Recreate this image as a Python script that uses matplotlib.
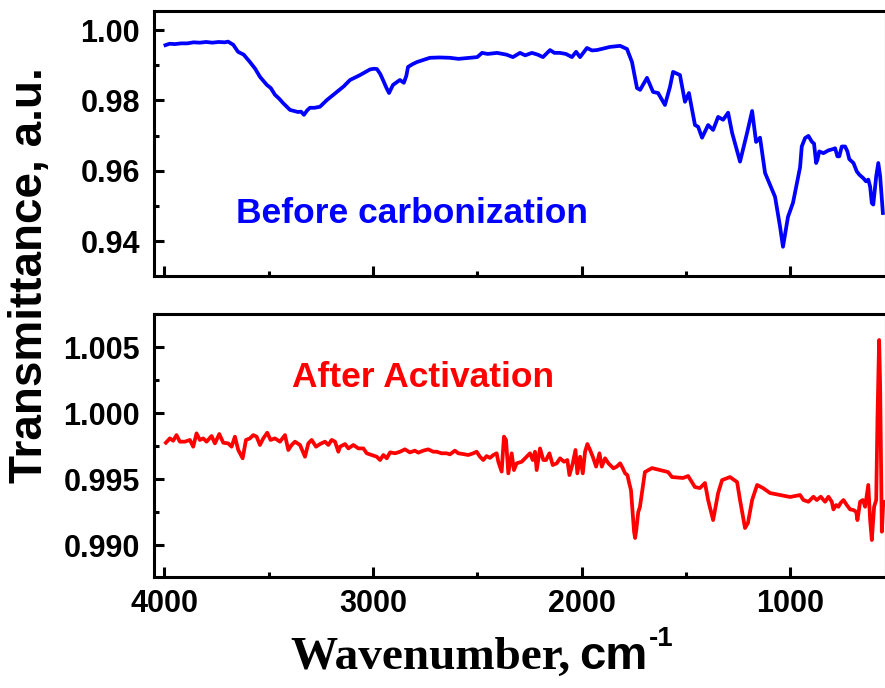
import matplotlib.pyplot as plt
import numpy as np
from matplotlib.ticker import MultipleLocator, FormatStrFormatter

# before carbonization (top panel)
wn_before = [3995, 3975, 3950, 3920, 3890, 3860, 3830, 3800, 3770, 3740, 3710, 3695,
             3670, 3647, 3620, 3590, 3565, 3542, 3509, 3490, 3470, 3450, 3432, 3398,
             3360, 3345, 3331, 3315, 3302, 3280, 3254, 3221, 3173, 3140, 3110, 3062,
             3014, 2995, 2981, 2965, 2952, 2935, 2923, 2904, 2871, 2852, 2840, 2832,
             2810, 2789, 2727, 2680, 2631, 2590, 2535, 2500, 2477, 2450, 2405, 2360,
             2329, 2295, 2270, 2238, 2210, 2185, 2151, 2130, 2103, 2075, 2046, 2026,
             2007, 1974, 1950, 1926, 1890, 1863, 1815, 1782, 1758, 1734, 1719, 1686,
             1657, 1633, 1600, 1576, 1561, 1528, 1504, 1485, 1456, 1441, 1422, 1393,
             1369, 1345, 1321, 1297, 1278, 1240, 1206, 1182, 1163, 1144, 1120, 1072,
             1048, 1034, 1010, 986, 962, 952, 944, 928, 912, 896, 885, 875, 869, 860,
             840, 816, 792, 784, 773, 764, 752, 736, 725, 716, 696, 680, 668, 649,
             636, 625, 616, 608, 601, 587, 577, 568, 555]
t_before = [0.9957, 0.9961, 0.9960, 0.9962, 0.9962, 0.9965, 0.9964, 0.9966, 0.9964, 0.9966, 0.9965, 0.9967,
            0.9958, 0.9938, 0.9930, 0.9909, 0.9890, 0.9867, 0.9844, 0.9835, 0.9816, 0.9805, 0.9793, 0.9773,
            0.9767, 0.9768, 0.9759, 0.9772, 0.9779, 0.9779, 0.9782, 0.9801, 0.9824, 0.9840, 0.9858, 0.9872,
            0.9888, 0.9890, 0.9889, 0.9875, 0.9858, 0.9835, 0.9821, 0.9844, 0.9858, 0.9850, 0.9870, 0.9895,
            0.9903, 0.9909, 0.9921, 0.9922, 0.9921, 0.9918, 0.9921, 0.9923, 0.9935, 0.9932, 0.9935, 0.9930,
            0.9923, 0.9935, 0.9928, 0.9935, 0.9930, 0.9923, 0.9943, 0.9935, 0.9935, 0.9932, 0.9923, 0.9938,
            0.9923, 0.9949, 0.9942, 0.9943, 0.9948, 0.9952, 0.9955, 0.9946, 0.9909, 0.9835, 0.9830, 0.9864,
            0.9824, 0.9821, 0.9787, 0.9838, 0.9881, 0.9872, 0.9796, 0.9821, 0.9730, 0.9725, 0.9694, 0.9730,
            0.9716, 0.9753, 0.9745, 0.9765, 0.9708, 0.9626, 0.9708, 0.9770, 0.9682, 0.9694, 0.9594, 0.9526,
            0.9441, 0.9384, 0.9469, 0.9509, 0.9580, 0.9610, 0.9669, 0.9693, 0.9699, 0.9683, 0.9677, 0.9622, 0.9631, 0.9655,
            0.9650, 0.9658, 0.9662, 0.9664, 0.9641, 0.9641, 0.9669, 0.9669, 0.9655, 0.9633, 0.9622, 0.9598, 0.9589, 0.9579,
            0.9570, 0.9575, 0.9555, 0.9508, 0.9504, 0.9584, 0.9622, 0.9584, 0.9480]

# after activation (bottom panel)
wn_after = [3993, 3974, 3958, 3942, 3926, 3902, 3878, 3862, 3846, 3830, 3814, 3798,
            3774, 3758, 3737, 3718, 3694, 3678, 3662, 3646, 3625, 3609, 3590, 3574,
            3558, 3542, 3526, 3507, 3491, 3470, 3446, 3422, 3406, 3390, 3374, 3350,
            3326, 3310, 3294, 3273, 3254, 3230, 3214, 3198, 3182, 3166, 3158, 3134,
            3118, 3094, 3070, 3046, 3030, 3006, 2982, 2966, 2950, 2934, 2918, 2894,
            2870, 2847, 2823, 2799, 2783, 2759, 2735, 2711, 2695, 2671, 2647, 2631,
            2607, 2591, 2567, 2543, 2519, 2503, 2487, 2471, 2455, 2439, 2423, 2407,
            2399, 2383, 2372, 2362, 2351, 2335, 2324, 2311, 2287, 2263, 2247, 2234,
            2223, 2215, 2199, 2183, 2170, 2154, 2138, 2119, 2103, 2084, 2068, 2058,
            2042, 2029, 2020, 2007, 1994, 1983, 1972, 1959, 1946, 1930, 1914, 1903,
            1887, 1871, 1847, 1831, 1815, 1802, 1791, 1780, 1771, 1763, 1755, 1748,
            1743, 1737, 1728, 1720, 1696, 1662, 1624, 1585, 1566, 1513, 1489, 1456,
            1432, 1408, 1393, 1369, 1345, 1326, 1288, 1254, 1240, 1216, 1202, 1182,
            1158, 1130, 1096, 1048, 1000, 952, 936, 912, 888, 872, 853, 832, 816,
            800, 792, 779, 768, 757, 744, 728, 712, 696, 683, 677, 664, 651, 640,
            625, 616, 608, 597, 587, 581, 573, 568, 560, 553]
t_after = [0.99775, 0.99808, 0.99790, 0.99833, 0.99783, 0.99783, 0.99796, 0.99745, 0.99846, 0.99796, 0.99808, 0.99783,
           0.99826, 0.99770, 0.99841, 0.99775, 0.99770, 0.99745, 0.99821, 0.99720, 0.99657, 0.99796, 0.99808, 0.99833,
           0.99821, 0.99758, 0.99808, 0.99851, 0.99796, 0.99808, 0.99783, 0.99833, 0.99720, 0.99758, 0.99783, 0.99758,
           0.99669, 0.99770, 0.99796, 0.99745, 0.99765, 0.99783, 0.99758, 0.99796, 0.99783, 0.99707, 0.99745, 0.99765,
           0.99732, 0.99758, 0.99732, 0.99732, 0.99695, 0.99682, 0.99669, 0.99644, 0.99682, 0.99657, 0.99702, 0.99695,
           0.99707, 0.99725, 0.99702, 0.99715, 0.99700, 0.99715, 0.99725, 0.99707, 0.99707, 0.99695, 0.99695, 0.99687,
           0.99715, 0.99695, 0.99689, 0.99682, 0.99695, 0.99707, 0.99669, 0.99644, 0.99674, 0.99660, 0.99682, 0.99695,
           0.99631, 0.99556, 0.99821, 0.99796, 0.99543, 0.99695, 0.99568, 0.99619, 0.99631, 0.99669, 0.99695, 0.99644,
           0.99707, 0.99568, 0.99732, 0.99644, 0.99644, 0.99695, 0.99606, 0.99619, 0.99657, 0.99631, 0.99644, 0.99530,
           0.99619, 0.99720, 0.99543, 0.99669, 0.99543, 0.99707, 0.99765, 0.99720, 0.99669, 0.99594, 0.99695, 0.99594,
           0.99657, 0.99619, 0.99581, 0.99594, 0.99619, 0.99581, 0.99543, 0.99530, 0.99467, 0.99417, 0.99250, 0.99100,
           0.99053, 0.99120, 0.99250, 0.99288, 0.99553, 0.99583, 0.99568, 0.99553, 0.99515, 0.99508, 0.99523, 0.99439,
           0.99432, 0.99470, 0.99341, 0.99189, 0.99394, 0.99492, 0.99515, 0.99477, 0.99341, 0.99129, 0.99167, 0.99341,
           0.99455, 0.99432, 0.99394, 0.99379, 0.99364, 0.99379, 0.99341, 0.99328, 0.99366, 0.99341, 0.99366, 0.99328, 0.99366,
           0.99328, 0.99270, 0.99303, 0.99290, 0.99320, 0.99341, 0.99303, 0.99270, 0.99265, 0.99252, 0.99189, 0.99328, 0.99341, 0.99290,
           0.99455, 0.99189, 0.99038, 0.99290, 0.99341, 0.99947, 1.00553, 1.00199, 0.99101, 0.99328]

label_before = "Before carbonization"
label_after = "After Activation"

plt.rcParams['font.family'] = ['Liberation Sans', 'DejaVu Sans']
plt.rcParams['font.weight'] = 'bold'

fig = plt.figure(figsize=(8.85, 6.88), dpi=100)
ax1 = fig.add_axes([154 / 885, 1 - 276 / 688, 732 / 885, 265 / 688])
ax2 = fig.add_axes([154 / 885, 1 - 577 / 688, 732 / 885, 263 / 688])

ax1.plot(wn_before, t_before, color='#0000FF', lw=2.7)
ax2.plot(wn_after, t_after, color='#FF0000', lw=2.7)

for ax in (ax1, ax2):
    ax.set_xlim(4050, 540)
    ax.xaxis.set_major_locator(MultipleLocator(1000))
    ax.xaxis.set_minor_locator(MultipleLocator(500))
    ax.tick_params(which='both', direction='in', top=False, right=False, width=2.2)
    ax.tick_params(which='major', length=7, labelsize=22)
    ax.tick_params(axis='y', which='major', pad=10)
    ax.tick_params(axis='x', which='major', pad=9)
    ax.tick_params(which='minor', length=3.5)
    for s in ax.spines.values():
        s.set_linewidth(2.2)

ax1.set_ylim(0.9301, 1.0054)
ax1.yaxis.set_major_locator(MultipleLocator(0.02))
ax1.yaxis.set_minor_locator(MultipleLocator(0.01))
ax1.yaxis.set_major_formatter(FormatStrFormatter('%.2f'))
ax1.tick_params(axis='x', labelbottom=False)

ax2.set_ylim(0.98758, 1.0075)
ax2.yaxis.set_major_locator(MultipleLocator(0.005))
ax2.yaxis.set_minor_locator(MultipleLocator(0.0025))
ax2.yaxis.set_major_formatter(FormatStrFormatter('%.3f'))

ax1.text(0.112, 0.2, label_before, transform=ax1.transAxes, color='#0000FF',
         fontsize=25.5, fontweight='bold', va='baseline')
ax2.text(0.1885, 0.7224, label_after, transform=ax2.transAxes, color='#FF0000',
         fontsize=25.5, fontweight='bold', va='baseline')

fig.text(30 / 885, 1 - 275 / 688, "Transmittance, a.u.", rotation=90,
         fontsize=33, fontweight='bold', ha='center', va='center')

# x label: serif word + sans unit
fig.canvas.draw()
r = fig.canvas.get_renderer()
t1 = fig.text(290 / 885, 1 - 669 / 688, "Wavenumber,", family='Liberation Serif',
              fontsize=34, fontweight='bold', va='baseline')
bb = t1.get_window_extent(r)
t2 = fig.text((bb.x1 + 9) / 885, 1 - 669 / 688, "cm", fontsize=34,
              fontweight='bold', va='baseline')
bb2 = t2.get_window_extent(r)
fig.text((bb2.x1 + 1) / 885, 1 - 646 / 688, "-1", fontsize=20,
         fontweight='bold', va='baseline')

fig.savefig('out.png', dpi=100)
